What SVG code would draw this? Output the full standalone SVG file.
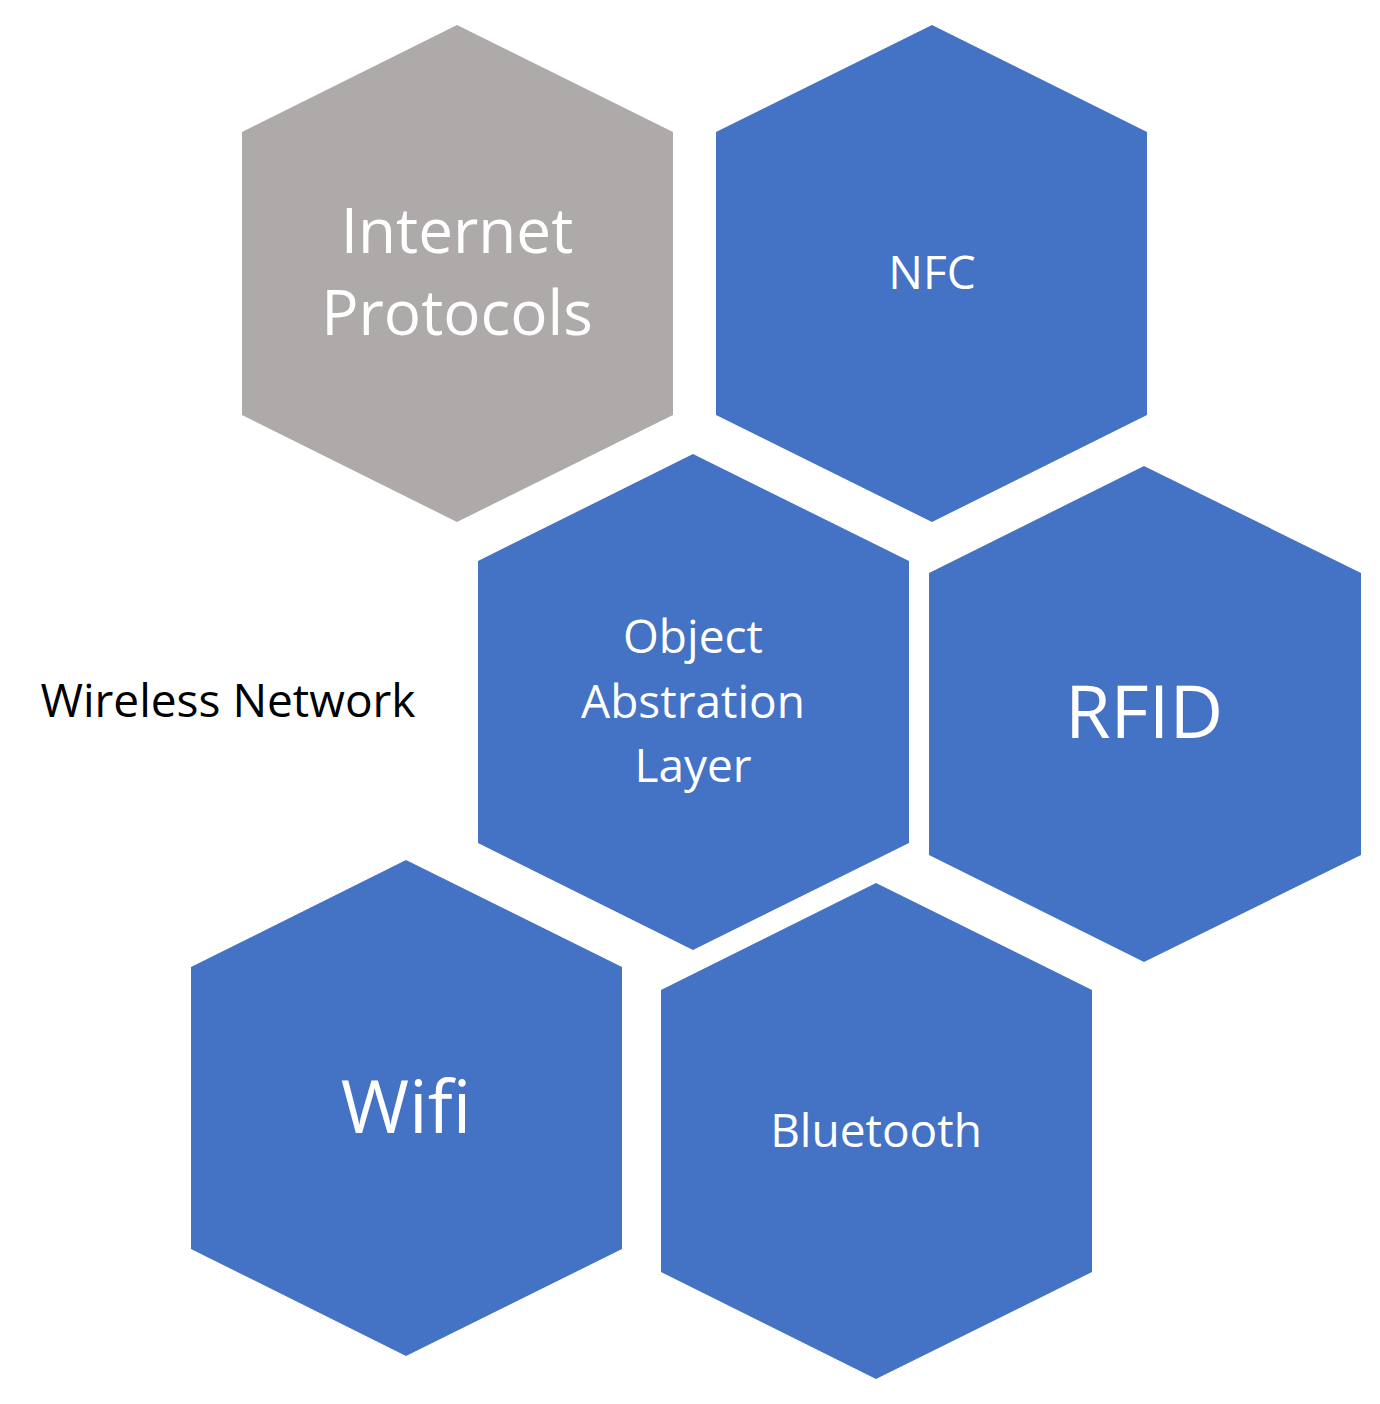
<svg xmlns="http://www.w3.org/2000/svg" width="1380" height="1404" viewBox="0 0 1380 1404">
<style>
.b{fill:#4472C4}.g{fill:#AEAAAA}
text{font-family:"Open Sans","Liberation Sans",sans-serif;fill:#fff;text-anchor:middle}
</style>
<rect width="1380" height="1404" fill="#fff"/>
<g id="internet"><polygon class="g" points="457,25 673,132 673,415 457,522 242,415 242,132"/>
<text x="457" y="253" font-size="62">Internet</text><text x="457" y="335" font-size="62">Protocols</text></g>
<g id="nfc"><polygon class="b" points="932,25 1147,132 1147,415 932,522 716,415 716,132"/>
<text x="932" y="289" font-size="46">NFC</text></g>
<g id="object"><polygon class="b" points="693,454 909,561 909,843 693,950 478,843 478,561"/>
<text x="693" y="653" font-size="46">Object</text><text x="693" y="718" font-size="46">Abstration</text><text x="693" y="782" font-size="46">Layer</text></g>
<g id="rfid"><polygon class="b" points="1144,466 1361,573 1361,855 1144,962 929,855 929,573"/>
<text x="1144" y="738" font-size="74">RFID</text></g>
<g id="wifi"><polygon class="b" points="406,860 622,967 622,1249 406,1356 191,1249 191,967"/>
<text x="406" y="1133" font-size="74">Wifi</text></g>
<g id="bluetooth"><polygon class="b" points="876,883 1092,990 1092,1272 876,1379 661,1272 661,990"/>
<text x="876" y="1147" font-size="46">Bluetooth</text></g>
<g id="wireless"><text x="228" y="717" font-size="46" style="fill:#000">Wireless Network</text></g>
<g id="connectors"></g>
</svg>
